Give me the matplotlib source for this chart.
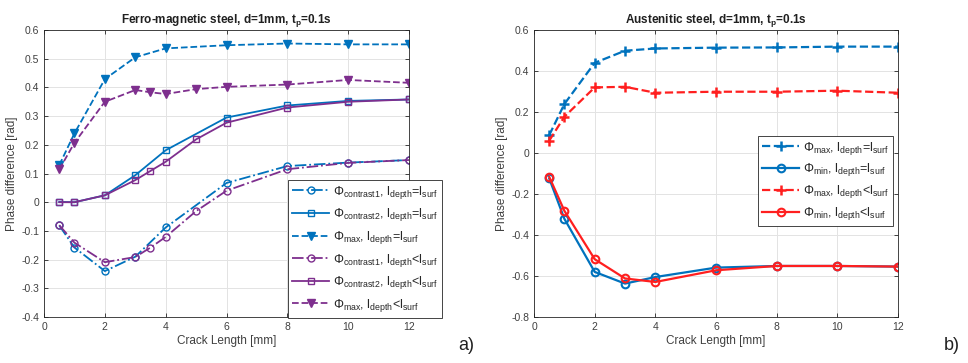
import matplotlib
matplotlib.use("Agg")
import matplotlib.pyplot as plt

plt.rcParams['font.family'] = ['Liberation Sans', 'DejaVu Sans']
plt.rcParams['mathtext.fontset'] = 'custom'
plt.rcParams['mathtext.rm'] = 'Liberation Sans'
plt.rcParams['mathtext.it'] = 'Liberation Sans'
plt.rcParams['mathtext.default'] = 'regular'

# ---- Ferro-magnetic steel (a) ----
x_a = [0.5, 1, 2, 3, 4, 6, 8, 10, 12]
x_a2 = [0.5, 1, 2, 3, 3.5, 4, 5, 6, 8, 10, 12]
c1_eq = [-0.081, -0.158, -0.240, -0.190, -0.088, 0.067, 0.126, 0.138, 0.147]
c2_eq = [0.001, 0.0, 0.024, 0.094, 0.181, 0.295, 0.337, 0.353, 0.358]
max_eq = [0.129, 0.240, 0.429, 0.505, 0.536, 0.547, 0.553, 0.550, 0.550]
c1_lt = [-0.080, -0.141, -0.209, -0.191, -0.158, -0.121, -0.031, 0.040, 0.115, 0.137, 0.147]
c2_lt = [0.0, 0.0, 0.024, 0.077, 0.109, 0.141, 0.219, 0.277, 0.330, 0.350, 0.358]
max_lt = [0.114, 0.207, 0.350, 0.391, 0.383, 0.377, 0.394, 0.402, 0.410, 0.426, 0.416]

# ---- Austenitic steel (b) ----
x_b = [0.5, 1, 2, 3, 4, 6, 8, 10, 12]
bmax_eq = [0.087, 0.239, 0.440, 0.499, 0.510, 0.514, 0.515, 0.519, 0.519]
bmin_eq = [-0.124, -0.321, -0.580, -0.637, -0.605, -0.559, -0.551, -0.551, -0.554]
bmax_lt = [0.060, 0.177, 0.320, 0.323, 0.294, 0.299, 0.299, 0.304, 0.294]
bmin_lt = [-0.116, -0.282, -0.518, -0.612, -0.629, -0.572, -0.551, -0.551, -0.554]

xticks = [0, 2, 4, 6, 8, 10, 12]
yticks_a = [-0.4, -0.3, -0.2, -0.1, 0, 0.1, 0.2, 0.3, 0.4, 0.5, 0.6]
yticks_b = [-0.8, -0.6, -0.4, -0.2, 0, 0.2, 0.4, 0.6]

BLUE = '#0072BD'
PURPLE = '#7E2F8E'
RED = '#FF1F1F'
TXT = '#404040'

fig = plt.figure(figsize=(9.68, 3.63), dpi=100)
axA = fig.add_axes([0.0455, 0.1267, 0.377, 0.7906])
axB = fig.add_axes([0.5517, 0.1267, 0.376, 0.7906])

def style(ax, yt, ylim, title):
    ax.set_xlim(0, 12)
    ax.set_ylim(*ylim)
    ax.set_xticks(xticks)
    ax.set_yticks(yt)
    ax.set_yticklabels([('%g' % v) for v in yt])
    ax.grid(True, color='#e3e3e3', linewidth=0.7)
    ax.set_axisbelow(True)
    ax.tick_params(direction='in', top=True, right=True, labelsize=7.5,
                   colors='#262626', labelcolor=TXT, length=3, width=0.6)
    for s in ax.spines.values():
        s.set_color('#262626')
        s.set_linewidth(0.6)
    ax.set_xlabel('Crack Length [mm]', fontsize=8.5, color=TXT, labelpad=2)
    ax.set_ylabel('Phase difference [rad]', fontsize=8.5, color=TXT, labelpad=2)
    ax.set_title(title, fontsize=8.5, fontweight='bold', color='#202020', pad=5)

def finish_legend(leg):
    leg.get_frame().set_linewidth(0.6)
    for t in leg.get_texts():
        t.set_color('#262626')

lw = 1.3
ms = 5
axA.plot(x_a, c1_eq, color=BLUE, ls='-.', lw=lw, marker='o', ms=ms, mfc='none',
         label=r'$\Phi_{contrast1}$, $l_{depth}$=$l_{surf}$')
axA.plot(x_a, c2_eq, color=BLUE, ls='-', lw=lw, marker='s', ms=ms-0.5, mfc='none',
         label=r'$\Phi_{contrast2}$, $l_{depth}$=$l_{surf}$')
axA.plot(x_a, max_eq, color=BLUE, ls='--', lw=lw, marker='v', ms=ms+1.2,
         label=r'$\Phi_{max}$, $l_{depth}$=$l_{surf}$')
axA.plot(x_a2, c1_lt, color=PURPLE, ls='-.', lw=lw, marker='o', ms=ms, mfc='none',
         label=r'$\Phi_{contrast1}$, $l_{depth}$<$l_{surf}$')
axA.plot(x_a2, c2_lt, color=PURPLE, ls='-', lw=lw, marker='s', ms=ms-0.5, mfc='none',
         label=r'$\Phi_{contrast2}$, $l_{depth}$<$l_{surf}$')
axA.plot(x_a2, max_lt, color=PURPLE, ls='--', lw=lw, marker='v', ms=ms+1.2,
         label=r'$\Phi_{max}$, $l_{depth}$<$l_{surf}$')
style(axA, yticks_a, (-0.4, 0.6), r'Ferro-magnetic steel, d=1mm, t$_p$=0.1s')
legA = axA.legend(loc='upper left', bbox_to_anchor=(288/968, 1-180/363),
                  bbox_transform=fig.transFigure, fontsize=9, frameon=True,
                  fancybox=False, edgecolor='#262626', framealpha=1,
                  handlelength=3, labelspacing=0.45, borderpad=0.3,
                  handletextpad=0.3, borderaxespad=0)
finish_legend(legA)

axB.plot(x_b, bmax_eq, color=BLUE, ls='--', lw=lw+0.3, marker='+', ms=ms+1.5, mew=1.8,
         label=r'$\Phi_{max}$, $l_{depth}$=$l_{surf}$')
axB.plot(x_b, bmin_eq, color=BLUE, ls='-', lw=lw+0.3, marker='o', ms=ms+0.5, mfc='none', mew=1.5,
         label=r'$\Phi_{min}$, $l_{depth}$=$l_{surf}$')
axB.plot(x_b, bmax_lt, color=RED, ls='--', lw=lw+0.3, marker='+', ms=ms+1.5, mew=1.8,
         label=r'$\Phi_{max}$, $l_{depth}$<$l_{surf}$')
axB.plot(x_b, bmin_lt, color=RED, ls='-', lw=lw+0.3, marker='o', ms=ms+0.5, mfc='none', mew=1.5,
         label=r'$\Phi_{min}$, $l_{depth}$<$l_{surf}$')
style(axB, yticks_b, (-0.8, 0.6), r'Austenitic steel, d=1mm, t$_p$=0.1s')
legB = axB.legend(loc='upper left', bbox_to_anchor=(758/968, 1-136/363),
                  bbox_transform=fig.transFigure, fontsize=9, frameon=True,
                  fancybox=False, edgecolor='#262626', framealpha=1,
                  handlelength=3, labelspacing=0.38, borderpad=0.3,
                  handletextpad=0.3, borderaxespad=0)
finish_legend(legB)

fig.text(466/968, 1-345/363, 'a)', fontsize=13, color='#202020', va='center', ha='center')
fig.text(952/968, 1-345/363, 'b)', fontsize=13, color='#202020', va='center', ha='center')

fig.savefig('out.png', dpi=100)
